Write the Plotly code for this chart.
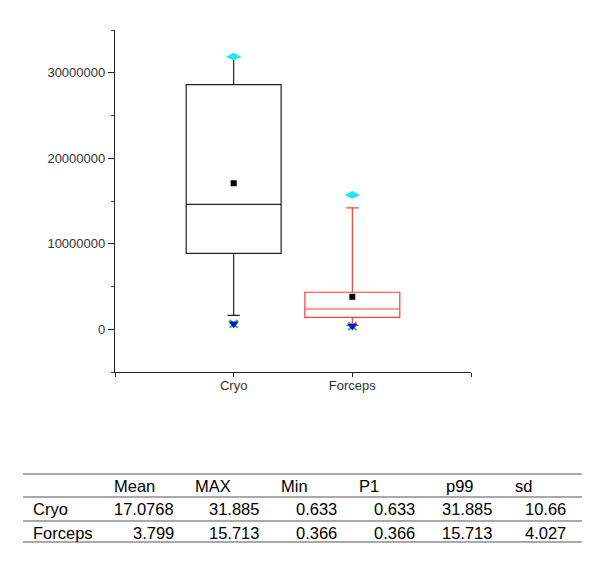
import plotly.graph_objects as go

# ---- data ----
categories = ["Cryo", "Forceps"]
xpos = [1, 2]
q1 = [8.88e6, 1.39e6]
median = [14.6e6, 2.37e6]
q3 = [28.6e6, 4.33e6]
lower_whisker = [1.63e6, 0.45e6]
upper_whisker = [31.885e6, 14.2e6]
means = [17.0768e6, 3.799e6]
maxima = [31.885e6, 15.713e6]
minima = [0.633e6, 0.366e6]
box_colors = ["#222222", "#ff3b3b"]

y_tickvals = [0, 10000000, 20000000, 30000000]

table_header = ["Mean", "MAX", "Min", "P1", "p99", "sd"]
table_rows = ["Cryo", "Forceps"]
table_values = [
    ["17.0768", "31.885", "0.633", "0.633", "31.885", "10.66"],
    ["3.799", "15.713", "0.366", "0.366", "15.713", "4.027"],
]

FONT = "Arial, Liberation Sans, sans-serif"

# page body has an 8px default margin; work in page pixels and shift
OFF = 8
FW, FH = 600 - OFF, 565 - OFF

fig = go.Figure()
for i, cat in enumerate(categories):
    fig.add_trace(go.Box(
        x=[xpos[i]], q1=[q1[i]], median=[median[i]], q3=[q3[i]],
        lowerfence=[lower_whisker[i]], upperfence=[upper_whisker[i]],
        width=0.8, whiskerwidth=0.13,
        line=dict(color=box_colors[i], width=1.2),
        fillcolor="rgba(0,0,0,0)", boxpoints=False, hoverinfo="skip",
        showlegend=False,
    ))

# mean markers
fig.add_trace(go.Scatter(x=xpos, y=means, mode="markers",
                         marker=dict(symbol="square", size=6, color="black"),
                         showlegend=False))
# max markers
fig.add_trace(go.Scatter(x=xpos, y=maxima, mode="markers",
                         marker=dict(symbol="diamond-wide", size=11, color="#22e5f0",
                                     line=dict(width=0)),
                         showlegend=False))
# min markers
fig.add_trace(go.Scatter(x=xpos, y=minima, mode="markers",
                         marker=dict(symbol="x-thin", size=8, color="#22cc22",
                                     line=dict(width=2, color="#22cc22")),
                         showlegend=False))
fig.add_trace(go.Scatter(x=xpos, y=minima, mode="markers",
                         marker=dict(symbol="triangle-down", size=9, color="#1010ee",
                                     line=dict(width=0)),
                         showlegend=False))

# ---- table (page pixel geometry converted to paper coords) ----
L, R, T, B = 115, 471, 30, 372
W, H = R - L, B - T

def px(x):
    return (x - L) / W

def py(y):
    return (B - y) / H

shapes = []
for yl in [474, 497, 521, 542]:
    shapes.append(dict(type="line", xref="paper", yref="paper",
                       x0=px(23), x1=px(582), y0=py(yl), y1=py(yl),
                       line=dict(color="#555555", width=1.2)))

annotations = []
tf = dict(family=FONT, size=16.5, color="black")
header_left = [113, 194, 280, 358, 445, 514]
value_right = [175, 260, 338, 416, 493, 567]
row_y = [509, 533]
header_y = 486
for j, h in enumerate(table_header):
    annotations.append(dict(text=h, xref="paper", yref="paper", x=px(header_left[j] - 1),
                            y=py(header_y), xanchor="left", yanchor="middle",
                            showarrow=False, font=tf))
for i, rname in enumerate(table_rows):
    annotations.append(dict(text=rname, xref="paper", yref="paper", x=px(31),
                            y=py(row_y[i]), xanchor="left", yanchor="middle",
                            showarrow=False, font=tf))
    for j, v in enumerate(table_values[i]):
        annotations.append(dict(text=v, xref="paper", yref="paper", x=px(value_right[j] + 1),
                                y=py(row_y[i]), xanchor="right", yanchor="middle",
                                showarrow=False, font=tf))

fig.update_layout(
    width=FW, height=FH,
    margin=dict(l=L - OFF, r=600 - R, t=T - OFF, b=565 - B),
    paper_bgcolor="white", plot_bgcolor="white",
    shapes=shapes, annotations=annotations,
    font=dict(family=FONT),
)
fig.update_xaxes(
    range=[0, 3], tickvals=[0, 1, 2, 3], ticktext=["", "Cryo", "Forceps", ""],
    showgrid=False, zeroline=False, showline=True, linecolor="#222222", linewidth=1.3,
    ticks="outside", ticklen=4, tickcolor="#222222", tickwidth=1.2,
    ticklabelstandoff=-3,
    tickfont=dict(family=FONT, size=13, color="#333333"),
)
fig.update_yaxes(
    range=[-5e6, 35e6], tickvals=y_tickvals, tickformat="d",
    showgrid=False, zeroline=False, showline=True, linecolor="#222222", linewidth=1.3,
    ticks="outside", ticklen=6, tickcolor="#222222", tickwidth=1.2,
    tickfont=dict(family=FONT, size=13, color="#333333"),
    minor=dict(dtick=5e6, tick0=0, ticks="outside", ticklen=3, tickcolor="#444444",
               showgrid=False),
)

fig.write_html("out.html")
